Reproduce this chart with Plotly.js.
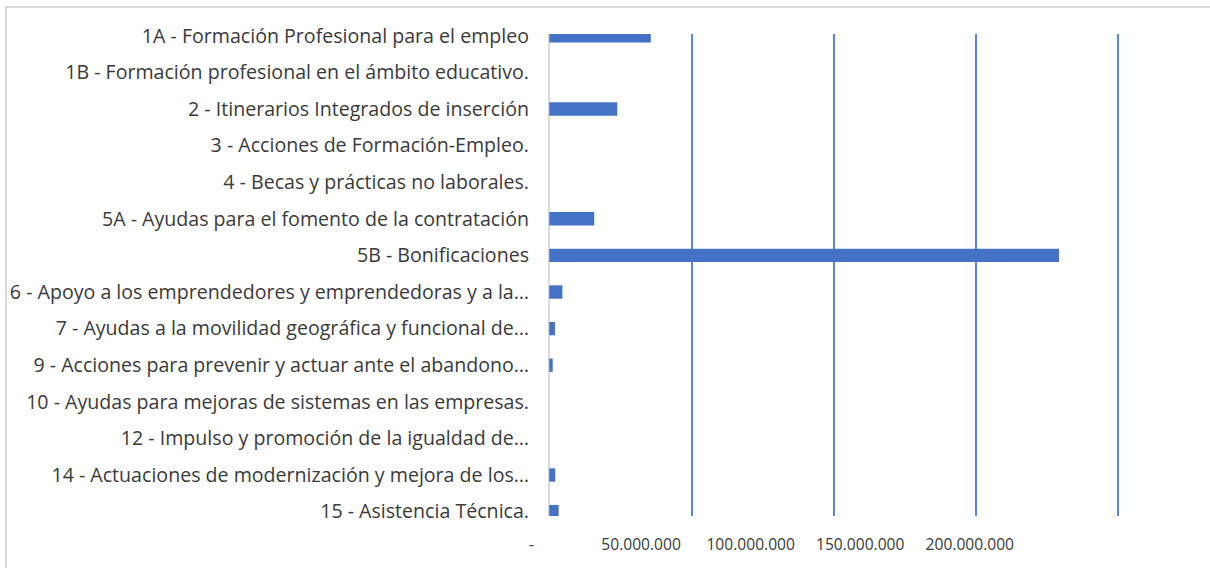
<!DOCTYPE html>
<html>
<head>
<meta charset="utf-8">
<script src="https://cdn.plot.ly/plotly-3.0.1.min.js"></script>
<style>
  html, body { margin: 0; padding: 0; background: #ffffff; }
  #wrap { position: relative; width: 1210px; height: 568px; overflow: hidden; }
  #chart { width: 1210px; height: 568px; }
  #frame { position: absolute; left: 5px; top: 6px; width: 1300px; height: 700px;
           border-top: 2px solid #d9d9d9; border-left: 2px solid #d9d9d9; pointer-events: none; }
</style>
</head>
<body>
<div id="wrap">
  <div id="chart"></div>
  <div id="frame"></div>
</div>
<script>
const categories = [
  "1A - Formación Profesional para el empleo",
  "1B - Formación profesional en el ámbito educativo.",
  "2 - Itinerarios Integrados de inserción",
  "3 - Acciones de Formación-Empleo.",
  "4 - Becas y prácticas no laborales.",
  "5A - Ayudas para el fomento de la contratación",
  "5B - Bonificaciones",
  "6 - Apoyo a los emprendedores y emprendedoras y a la…",
  "7 - Ayudas a la movilidad geográfica y funcional de…",
  "9 - Acciones para prevenir y actuar ante el abandono…",
  "10 - Ayudas para mejoras de sistemas en las empresas.",
  "12 - Impulso y promoción de la igualdad de…",
  "14 - Actuaciones de modernización y mejora de los…",
  "15 - Asistencia Técnica."
];
const values = [
  35700000, 0, 23900000, 0, 0, 15800000, 179200000,
  4600000, 2000000, 1200000, 0, 0, 2100000, 3300000
];
const tickValues = [0, 50000000, 100000000, 150000000, 200000000];
const tickLabels = ["-", "50.000.000", "100.000.000", "150.000.000", "200.000.000"];
const gridValues = [50000000, 100000000, 150000000, 200000000];

const yLabelFont = { family: "'Open Sans', Lato, sans-serif", size: 19.6, color: "#3a3a3a" };
const xLabelFont = { family: "'Open Sans', Lato, sans-serif", size: 15.6, color: "#3a3a3a" };

const data = [
  {
    type: "bar",
    orientation: "h",
    x: values,
    y: categories,
    width: 0.366,
    marker: { color: "#4472C4" },
    hoverinfo: "x+y",
    xaxis: "x",
    yaxis: "y"
  },
  {
    type: "scatter",
    mode: "markers",
    x: [],
    y: [],
    xaxis: "x2",
    yaxis: "y",
    showlegend: false,
    hoverinfo: "skip"
  }
];

const layout = {
  width: 1210,
  height: 568,
  margin: { l: 530, r: 89, t: 34, b: 52, pad: 0 },
  paper_bgcolor: "#ffffff",
  plot_bgcolor: "#ffffff",
  showlegend: false,
  xaxis: {
    range: [-6780000, 201000000],
    tickvals: gridValues,
    showticklabels: false,
    ticks: "",
    showgrid: true,
    gridcolor: "#5b86d6",
    gridwidth: 2,
    zeroline: true,
    zerolinecolor: "#d9d9d9",
    zerolinewidth: 2,
    showline: false,
    fixedrange: true
  },
  xaxis2: {
    overlaying: "x",
    anchor: "y",
    side: "bottom",
    range: [-700000, 269000000],
    tickvals: tickValues,
    ticktext: tickLabels,
    ticks: "",
    ticklabelstandoff: 17,
    tickfont: xLabelFont,
    showgrid: false,
    zeroline: false,
    showline: false,
    fixedrange: true
  },
  yaxis: {
    type: "category",
    range: [13.12, -0.05],
    ticks: "",
    ticklen: 0,
    ticklabelstandoff: 0,
    tickfont: yLabelFont,
    showgrid: false,
    zeroline: false,
    showline: false,
    fixedrange: true
  }
};

Plotly.newPlot("chart", data, layout, { displayModeBar: false, staticPlot: true });
</script>
</body>
</html>
